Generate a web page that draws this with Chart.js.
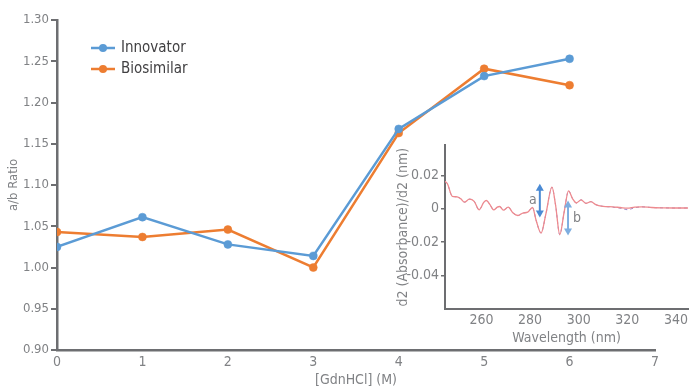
<!DOCTYPE html>
<html>
<head>
<meta charset="utf-8">
<script src="https://cdn.jsdelivr.net/npm/chart.js@4.4.0/dist/chart.umd.min.js"></script>
<style>
  body { margin: 0; background: #fff; }
  #wrap { position: relative; width: 691px; height: 390px; }
  #main { position: absolute; left: 0; top: 0; }
  #inset { position: absolute; left: 385px; top: 135px; }
</style>
</head>
<body>
<div id="wrap">
  <canvas id="main" width="691" height="390"></canvas>
  <canvas id="inset" width="306" height="215"></canvas>
</div>
<script>
// main chart data
const gdn = [0, 1, 2, 3, 4, 5, 6];
const innovator = [1.025, 1.061, 1.028, 1.014, 1.168, 1.232, 1.253];
const biosimilar = [1.043, 1.037, 1.046, 1.000, 1.163, 1.241, 1.221];
const mainYTicks = [0.90, 0.95, 1.00, 1.05, 1.10, 1.15, 1.20, 1.25, 1.30];

// inset spectrum (second derivative)
const wavelength = [245, 246, 248, 250, 251.5, 253, 255, 257, 259, 261, 262, 263.5, 265, 266.5, 267.5, 269, 271, 273, 275, 277, 279, 281, 282.5, 284.5, 286.5, 289, 290.5, 292.2, 294, 295.8, 297.5, 299, 301, 303, 305, 307, 310, 314, 317, 320, 323, 326, 330, 335, 340, 345];
const d2Red = [0.0165, 0.0150, 0.0075, 0.0072, 0.0060, 0.0040, 0.0058, 0.0045, -0.0006, 0.0040, 0.0050, 0.0025, -0.0006, 0.0010, 0.0014, -0.0008, 0.0010, -0.0025, -0.0040, -0.0025, -0.0020, 0.0008, -0.0070, -0.0145, -0.0030, 0.0130, 0.0020, -0.0155, -0.0020, 0.0108, 0.0060, 0.0035, 0.0054, 0.0033, 0.0043, 0.0025, 0.0015, 0.0012, 0.0008, 0.0004, 0.0010, 0.0012, 0.0008, 0.0006, 0.0005, 0.0005];
const d2Blue = [0.0165, 0.0150, 0.0075, 0.0072, 0.0060, 0.0040, 0.0058, 0.0045, -0.0006, 0.0040, 0.0050, 0.0025, -0.0006, 0.0010, 0.0014, -0.0008, 0.0010, -0.0025, -0.0040, -0.0025, -0.0020, 0.0008, -0.0070, -0.0145, -0.0030, 0.0130, 0.0020, -0.0155, -0.0020, 0.0108, 0.0060, 0.0035, 0.0054, 0.0033, 0.0043, 0.0025, 0.0015, 0.0010, 0.0004, -0.0005, 0.0006, 0.0012, 0.0008, 0.0006, 0.0005, 0.0005];
const insetYTicks = [-0.04, -0.02, 0, 0.02];
const insetXTicks = [260, 280, 300, 320, 340];
// arrows a and b: [wavelength, top, bottom]
const arrowA = [284, 0.0151, -0.0052];
const arrowB = [295.6, 0.0050, -0.0160];

const FONT = "'Liberation Sans Narrow', 'DejaVu Sans Condensed', 'Roboto', sans-serif";
const AXIS = '#6d6e71';
const TXT = '#808285';
const BLUE = '#5b9bd5';
const ORANGE = '#ed7d31';

const toXY = (xs, ys) => xs.map((x, i) => ({x: x, y: ys[i]}));

// legend drawn inside the plot area, top left
const innerLegend = {
  id: 'innerLegend',
  afterDraw(chart) {
    const c = chart.ctx;
    const a = chart.chartArea;
    chart.data.datasets.forEach((ds, i) => {
      const y = a.top + 28 + i * 21;
      const x = a.left + 34;
      c.save();
      c.strokeStyle = ds.borderColor;
      c.lineWidth = 2.5;
      c.beginPath();
      c.moveTo(x, y);
      c.lineTo(x + 24, y);
      c.stroke();
      c.fillStyle = ds.borderColor;
      c.beginPath();
      c.arc(x + 12, y, 4, 0, Math.PI * 2);
      c.fill();
      c.fillStyle = '#414042';
      c.font = '15px ' + FONT;
      c.textBaseline = 'middle';
      c.fillText(ds.label, x + 30, y);
      c.restore();
    });
  }
};

new Chart(document.getElementById('main'), {
  type: 'line',
  data: {
    datasets: [
      {label: 'Innovator', data: toXY(gdn, innovator), borderColor: BLUE, backgroundColor: BLUE,
       borderWidth: 2.5, pointRadius: 4, pointBorderWidth: 0.5, pointHoverRadius: 4, tension: 0},
      {label: 'Biosimilar', data: toXY(gdn, biosimilar), borderColor: ORANGE, backgroundColor: ORANGE,
       borderWidth: 2.5, pointRadius: 4, pointBorderWidth: 0.5, pointHoverRadius: 4, tension: 0}
    ]
  },
  options: {
    responsive: false,
    animation: false,
    layout: {padding: {top: 20, right: 36, left: 0, bottom: 0}},
    plugins: {legend: {display: false}, tooltip: {enabled: false}},
    scales: {
      x: {
        type: 'linear', min: 0, max: 7,
        ticks: {stepSize: 1, color: TXT, font: {family: FONT, size: 14}, padding: 4},
        grid: {display: false, drawTicks: false},
        border: {color: AXIS, width: 2.5},
        title: {display: true, text: '[GdnHCl] (M)', color: TXT, font: {family: FONT, size: 14}, padding: {top: 0, bottom: 1}},
        afterFit: s => { s.height = 40; }
      },
      y: {
        min: 0.90, max: 1.30,
        afterBuildTicks: s => { s.ticks = mainYTicks.map(v => ({value: v})); },
        ticks: {color: TXT, font: {family: FONT, size: 13}, padding: 2, callback: v => v.toFixed(2)},
        grid: {drawOnChartArea: false, drawTicks: true, tickLength: 6, color: AXIS, lineWidth: 2},
        border: {color: AXIS, width: 2.5},
        title: {display: true, text: 'a/b Ratio', color: TXT, font: {family: FONT, size: 13}, padding: {top: 6, bottom: 0}},
        afterFit: s => { s.width = 57; }
      }
    }
  },
  plugins: [innerLegend]
});

// arrows and labels a / b on the inset
const arrows = {
  id: 'arrows',
  afterDatasetsDraw(chart) {
    const c = chart.ctx;
    const xs = chart.scales.x, ys = chart.scales.y;
    const draw = (arr, color, label, dx) => {
      const x = xs.getPixelForValue(arr[0]);
      const y1 = ys.getPixelForValue(arr[1]);
      const y2 = ys.getPixelForValue(arr[2]);
      c.save();
      c.strokeStyle = color;
      c.fillStyle = color;
      c.lineWidth = 2;
      c.beginPath();
      c.moveTo(x, y1 + 5);
      c.lineTo(x, y2 - 5);
      c.stroke();
      c.beginPath();
      c.moveTo(x, y1); c.lineTo(x - 4, y1 + 7); c.lineTo(x + 4, y1 + 7); c.closePath(); c.fill();
      c.beginPath();
      c.moveTo(x, y2); c.lineTo(x - 4, y2 - 7); c.lineTo(x + 4, y2 - 7); c.closePath(); c.fill();
      c.fillStyle = TXT;
      c.font = '14px ' + FONT;
      c.textAlign = 'center';
      c.textBaseline = 'middle';
      c.fillText(label, x + dx, (y1 + y2) / 2);
      c.restore();
    };
    draw(arrowA, '#4a8ad4', 'a', -7);
    draw(arrowB, '#7eaee0', 'b', 9);
  }
};

new Chart(document.getElementById('inset'), {
  type: 'line',
  data: {
    datasets: [
      {label: 'Innovator', data: toXY(wavelength, d2Red), borderColor: '#ee8a8e', borderWidth: 1.3,
       pointRadius: 0, cubicInterpolationMode: 'monotone'},
      {label: 'Biosimilar', data: toXY(wavelength, d2Blue), borderColor: '#9a86c8', borderWidth: 1,
       borderDash: [3, 3], pointRadius: 0, cubicInterpolationMode: 'monotone'}
    ]
  },
  options: {
    responsive: false,
    animation: false,
    layout: {padding: {top: 8, right: 0, left: 0, bottom: 0}},
    plugins: {legend: {display: false}, tooltip: {enabled: false}},
    scales: {
      x: {
        type: 'linear', min: 245, max: 345,
        afterBuildTicks: s => { s.ticks = insetXTicks.map(v => ({value: v})); },
        ticks: {color: TXT, font: {family: FONT, size: 14}, padding: 3},
        grid: {display: false, drawTicks: false},
        border: {color: AXIS, width: 2},
        title: {display: true, text: 'Wavelength (nm)', color: TXT, font: {family: FONT, size: 14}, padding: {top: 0, bottom: 3}},
        afterFit: s => { s.height = 41; }
      },
      y: {
        min: -0.06, max: 0.038,
        afterBuildTicks: s => { s.ticks = insetYTicks.map(v => ({value: v})); },
        ticks: {color: TXT, font: {family: FONT, size: 14}, padding: 2, callback: v => v === 0 ? '0' : v.toFixed(2)},
        grid: {drawOnChartArea: false, drawTicks: true, tickLength: 4, color: AXIS, lineWidth: 1.5},
        border: {color: AXIS, width: 2},
        title: {display: true, text: 'd2 (Absorbance)/d2 (nm)', color: TXT, font: {family: FONT, size: 14}, padding: {top: 10, bottom: 0}},
        afterFit: s => { s.width = 60; }
      }
    }
  },
  plugins: [arrows]
});
</script>
</body>
</html>
